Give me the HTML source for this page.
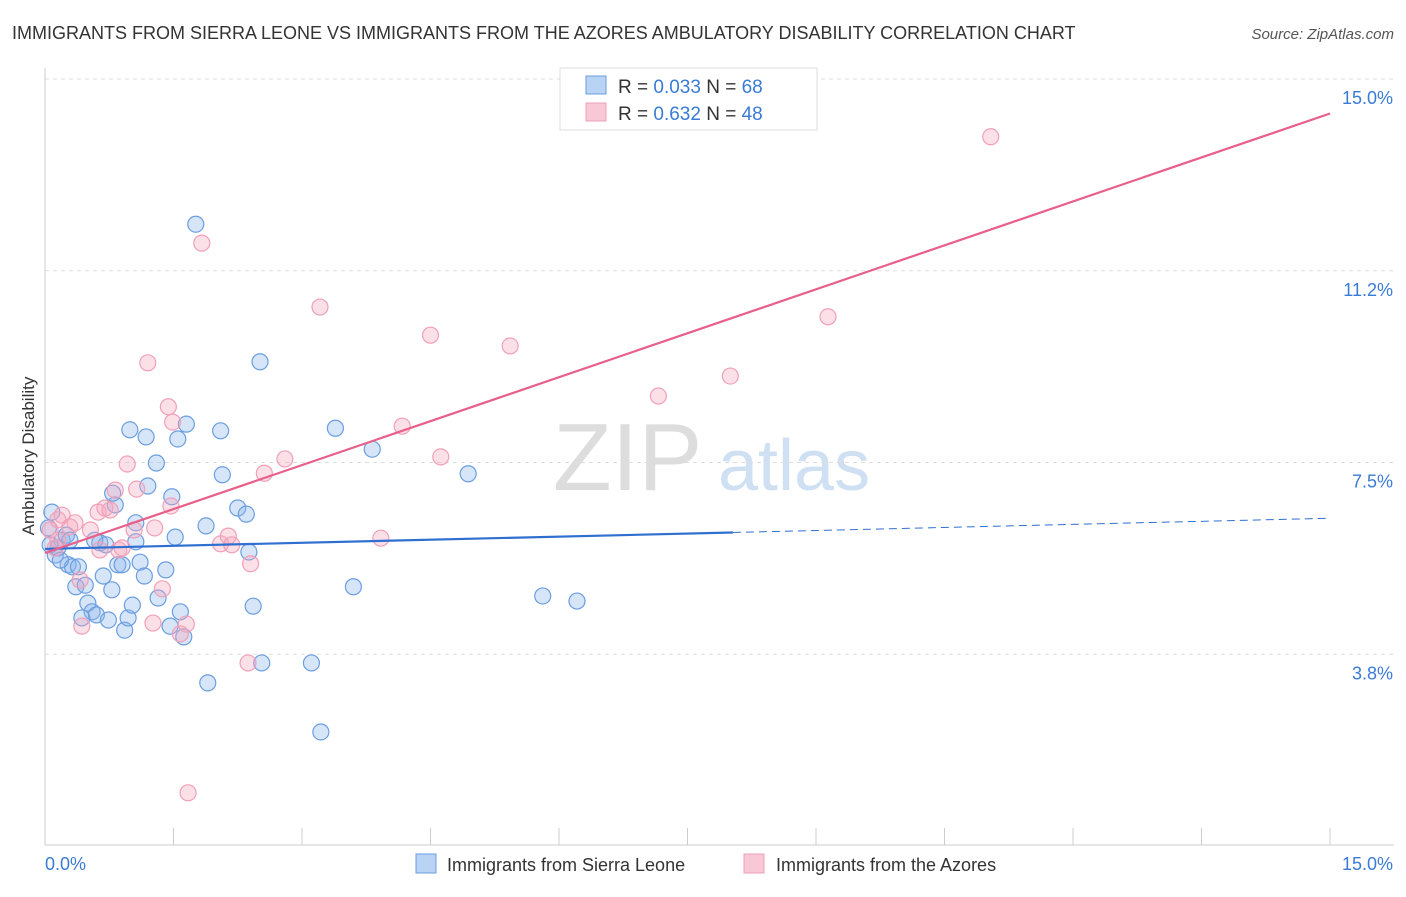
<!DOCTYPE html>
<html><head><meta charset="utf-8"><style>
body{margin:0;background:#fff;font-family:"Liberation Sans",sans-serif}
svg text{font-family:"Liberation Sans",sans-serif}
</style></head><body>
<svg id="chart" width="1406" height="892" xmlns="http://www.w3.org/2000/svg">
<text x="12" y="39" font-size="18" fill="#333">IMMIGRANTS FROM SIERRA LEONE VS IMMIGRANTS FROM THE AZORES AMBULATORY DISABILITY CORRELATION CHART</text>
<text x="1394" y="39" font-size="15" fill="#555" text-anchor="end" font-style="italic">Source: ZipAtlas.com</text>
<g><text x="553" y="490" font-size="96" fill="#ddd" font-family="Liberation Serif">ZIP</text><text x="718" y="490" font-size="72" fill="#cfe0f3">atlas</text></g>
<g id="grid"></g><g id="axes"></g><g id="marks"></g>
<text transform="translate(34,456) rotate(-90)" font-size="17" fill="#333" text-anchor="middle">Ambulatory Disability</text>
<g>
<rect x="560" y="68" width="257" height="62" fill="#fff" stroke="#ddd"/>
<rect x="586" y="76" width="20" height="18" fill="#b9d3f5" stroke="#6a9ee0"/>
<rect x="586" y="103" width="20" height="18" fill="#f9c8d6" stroke="#f0a0b8"/>
<text x="618" y="93" font-size="19" fill="#333">R = <tspan fill="#3a7bd5">0.033</tspan>   N = <tspan fill="#3a7bd5">68</tspan></text>
<text x="618" y="120" font-size="19" fill="#333">R = <tspan fill="#3a7bd5">0.632</tspan>   N = <tspan fill="#3a7bd5">48</tspan></text>
</g>
<g>
<rect x="416" y="854" width="20" height="19" fill="#b9d3f5" stroke="#6a9ee0"/>
<text x="447" y="871" font-size="18" fill="#333">Immigrants from Sierra Leone</text>
<rect x="744" y="854" width="20" height="19" fill="#f9c8d6" stroke="#f0a0b8"/>
<text x="776" y="871" font-size="18" fill="#333">Immigrants from the Azores</text>
</g>
</svg>
<script>
const blueX=[.08,.12,.15,.20,.25,.29,.27,.32,.39,.36,.47,.50,.55,.60,.43,.68,.74,.78,.64,.71,.85,.82,.79,.93,.97,1.02,1.11,1.16,1.06,1.06,1.32,1.41,1.46,1.58,1.62,1.52,1.48,1.20,1.30,.99,1.18,1.55,1.65,1.76,1.90,1.88,2.07,2.05,2.25,2.35,2.38,2.43,2.51,2.53,3.11,3.22,3.39,3.60,3.82,4.94,5.81,6.21,.04,.06,.18,.58,.90];
const blueY=[6.53,5.69,5.83,5.98,6.08,5.98,5.50,5.46,5.46,5.07,5.10,4.75,4.58,4.52,4.46,5.28,4.42,5.01,5.93,5.89,5.50,6.67,6.90,4.22,4.46,4.71,5.55,5.28,6.32,5.95,4.85,5.40,4.30,4.58,4.09,6.04,6.83,7.04,7.49,8.14,8.00,7.96,8.25,12.16,3.19,6.26,7.26,8.12,6.61,6.49,5.75,4.69,9.47,3.58,3.58,2.23,8.17,5.07,7.76,7.28,4.89,4.79,6.22,5.89,5.59,5.98,5.50];
const pinkX=[.06,.12,.15,.20,.29,.35,.41,.43,.53,.62,.70,.76,.82,.86,.90,.96,1.04,1.07,1.20,1.28,1.26,1.37,1.44,1.47,1.49,1.58,1.65,1.67,1.83,2.05,2.14,2.18,2.37,2.40,2.56,2.80,3.21,3.92,4.17,4.50,4.62,5.43,7.16,8.00,9.14,11.04,.15,.64];
const pinkY=[6.18,5.83,6.38,6.47,6.24,6.32,5.20,4.30,6.18,6.53,6.61,6.57,6.96,5.79,5.83,7.47,6.18,6.98,9.45,6.22,4.36,5.03,8.59,6.65,8.29,4.15,4.34,1.04,11.79,5.91,6.06,5.89,3.58,5.52,7.29,7.57,10.54,6.02,8.21,9.99,7.61,9.78,8.80,9.19,10.35,13.87,5.98,5.79];
const yTicks=[3.8,7.5,11.2,15.0];
const yTickLabels=["3.8%","7.5%","11.2%","15.0%"];
const blueTrend=[5.81,0.04,8.03];
const pinkTrend=[5.73,0.573];
const NS="http://www.w3.org/2000/svg";
const X=v=>45+v/15*1285, Y=v=>846-v/15*767;
function mk(tag,at,parent){const e=document.createElementNS(NS,tag);for(const k in at)e.setAttribute(k,at[k]);document.getElementById(parent).appendChild(e);return e;}
yTicks.forEach((t,i)=>{
 const yy=Y(t===3.8?3.75:t===11.2?11.25:t);
 const l=mk('line',{x1:45,x2:1394,y1:yy,y2:yy,stroke:'#ddd','stroke-dasharray':'4,4'},'grid');
 
 
 const tx=mk('text',{x:1393,y:yy+25,'font-size':18,fill:'#3a7bd5','text-anchor':'end'},'grid');
 tx.textContent=yTickLabels[i];
 
 
});
let ax=mk('line',{x1:45,x2:45,y1:68,y2:845,stroke:'#ccc'},'axes');


ax=mk('line',{x1:45,x2:1394,y1:845,y2:845,stroke:'#ccc'},'axes');


for(let i=0;i<=10;i++){const t=mk('line',{x1:X(i*1.5),x2:X(i*1.5),y1:828,y2:845,stroke:'#ccc'},'axes');
 
 }
[["0.0%",45,'start'],["15.0%",1393,'end']].forEach(a=>{const t=mk('text',{x:a[1],y:870,'font-size':18,fill:'#3a7bd5','text-anchor':a[2]},'axes');t.textContent=a[0];
 
 });
blueX.forEach((v,i)=>{const c=mk('circle',{cx:X(v),cy:Y(blueY[i]),r:8,fill:'rgba(140,180,235,0.35)',stroke:'#6a9ee0','stroke-width':1.2},'marks');
 
 });
pinkX.forEach((v,i)=>{const c=mk('circle',{cx:X(v),cy:Y(pinkY[i]),r:8,fill:'rgba(245,165,190,0.35)',stroke:'#f0a0b8','stroke-width':1.2},'marks');
 
 });
let t1=mk('line',{x1:X(0),y1:Y(blueTrend[0]),x2:X(blueTrend[2]),y2:Y(blueTrend[0]+blueTrend[1]*blueTrend[2]),stroke:'#2f6fd0','stroke-width':2.2},'marks');


t1=mk('line',{x1:X(blueTrend[2]),y1:Y(blueTrend[0]+blueTrend[1]*blueTrend[2]),x2:X(15),y2:Y(blueTrend[0]+blueTrend[1]*15),stroke:'#2f6fd0','stroke-width':1,'stroke-dasharray':'8,5'},'marks');


t1=mk('line',{x1:X(0),y1:Y(pinkTrend[0]),x2:X(15),y2:Y(pinkTrend[0]+pinkTrend[1]*15),stroke:'#e8608a','stroke-width':2.2},'marks');


</script>
</body></html>
